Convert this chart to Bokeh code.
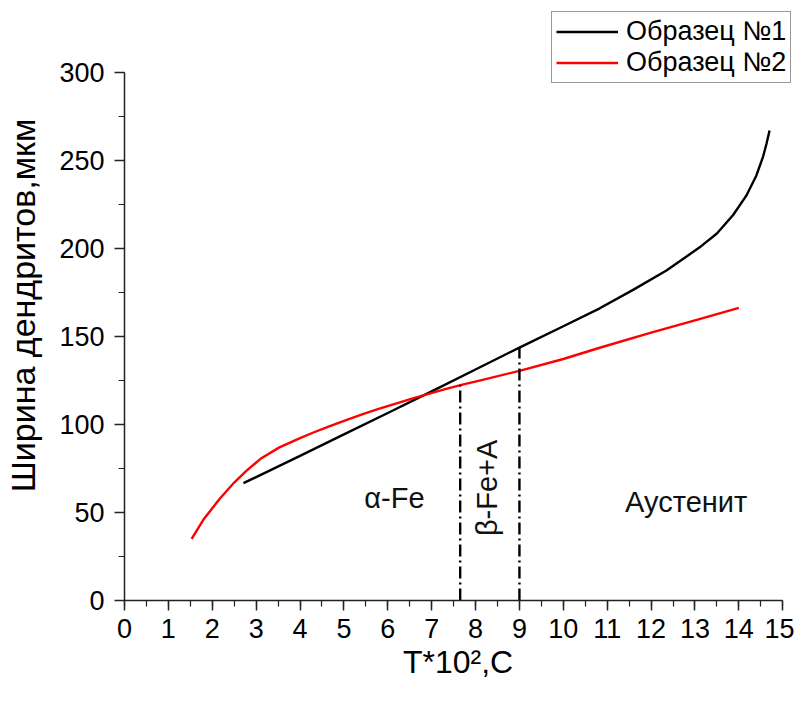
import numpy as np
from bokeh.plotting import figure
from bokeh.models import Range1d, SingleIntervalTicker, Legend, LegendItem
from bokeh.core.properties import value
from bokeh.embed import file_html
from bokeh.resources import INLINE

# Data
t1 = [2.71, 3.2, 4.0, 5.0, 6.0, 7.0, 8.09, 9.0, 10.0, 10.83, 11.59, 12.35, 13.1, 13.5, 13.87, 14.17, 14.4, 14.55, 14.63, 14.7]
w1 = [66.7, 72.5, 82.2, 94.4, 106.5, 118.8, 132.4, 143.7, 155.8, 166, 176.5, 187.5, 200.5, 208.5, 219, 230, 241.5, 252, 259.5, 267]

t2 = [1.53, 1.8, 2.17, 2.5, 2.77, 3.1, 3.53, 4.0, 4.29, 4.65, 5.05, 5.43, 5.81, 6.2, 6.57, 6.95, 7.33, 7.7, 8.09, 9.0, 10.0, 10.83, 12.0, 13.0, 14.0]
w2 = [35, 46, 57.8, 67, 73.5, 80.5, 87, 92.3, 95.3, 98.8, 102.5, 105.9, 109, 112, 114.8, 117.5, 120.2, 122.6, 124.9, 130.5, 137.2, 143.6, 152.2, 159.2, 166.3]

phase_t = [7.65, 9.0]
phase_top = [122.5, 143.5]

label_t = [6.15, 12.8]
label_w = [58, 56]
label_txt = ["α-Fe", "Аустенит"]
rot_t = [8.26]
rot_w = [64]
rot_txt = ["β-Fe+A"]

series_names = ["Образец №1", "Образец №2"]

FONT = "Liberation Sans"

p = figure(frame_width=667, frame_height=590, output_backend="svg", toolbar_location=None,
           x_range=Range1d(0, 15.2), y_range=Range1d(0, 335.2),
           min_border_left=124, min_border_top=10, min_border_right=3, min_border_bottom=5)
p.outline_line_color = None
p.grid.visible = False
p.background_fill_color = "white"

l1 = p.line(t1, w1, line_color="black", line_width=2.4, line_join="round")
l2 = p.line(t2, w2, line_color="#ff0000", line_width=2.4, line_join="round")

for t, top in zip(phase_t, phase_top):
    p.line([t, t], [0, top], line_color="black", line_width=2.4, line_dash="12 4 2 4")

p.text(label_t, label_w, text=label_txt, text_font=value(FONT), text_font_size="29px",
       text_align="center", text_baseline="middle", text_color="#111111")
p.text(rot_t, rot_w, text=rot_txt, text_font=value(FONT), text_font_size="29px", angle=np.pi/2,
       text_align="center", text_baseline="middle", text_color="#111111")

for ax in (p.xaxis[0], p.yaxis[0]):
    ax.axis_line_width = 1.5
    ax.axis_line_color = "#222222"
    ax.major_tick_line_color = "#222222"
    ax.minor_tick_line_color = "#222222"
    ax.major_tick_line_width = 1.5
    ax.minor_tick_line_width = 1.2
    ax.major_tick_out = 10
    ax.major_tick_in = 0
    ax.minor_tick_out = 6
    ax.minor_tick_in = 0
    ax.major_label_text_font = FONT
    ax.major_label_text_font_size = "27px"
    ax.major_label_text_color = "black"
    ax.axis_label_text_font = FONT
    ax.axis_label_text_font_style = "normal"
    ax.axis_label_text_color = "black"

p.xaxis[0].axis_label_text_font_size = "32px"
p.yaxis[0].axis_label_text_font_size = "34px"
p.xaxis[0].ticker = SingleIntervalTicker(interval=1, num_minor_ticks=2)
p.yaxis[0].ticker = SingleIntervalTicker(interval=50, num_minor_ticks=2)
p.xaxis[0].bounds = (0, 15)
p.yaxis[0].bounds = (0, 300)
p.xaxis[0].axis_label = "T*10²,C"
p.yaxis[0].axis_label = "Ширина дендритов,мкм"
p.xaxis[0].major_label_standoff = 8
p.yaxis[0].major_label_standoff = 10
p.xaxis[0].axis_label_standoff = 3
p.yaxis[0].axis_label_standoff = 14

legend = Legend(items=[LegendItem(label=series_names[0], renderers=[l1]),
                       LegendItem(label=series_names[1], renderers=[l2])],
                location=(427, 517))
legend.label_text_font = FONT
legend.label_text_font_size = "27px"
legend.label_text_color = "black"
legend.glyph_width = 62
legend.glyph_height = 31
legend.label_height = 31
legend.label_standoff = 8
legend.spacing = 0
legend.padding = 4
legend.margin = 0
legend.border_line_color = "#333333"
legend.border_line_width = 1.5
legend.background_fill_alpha = 1
p.add_layout(legend)

open("out.html", "w").write(file_html(p, INLINE))
